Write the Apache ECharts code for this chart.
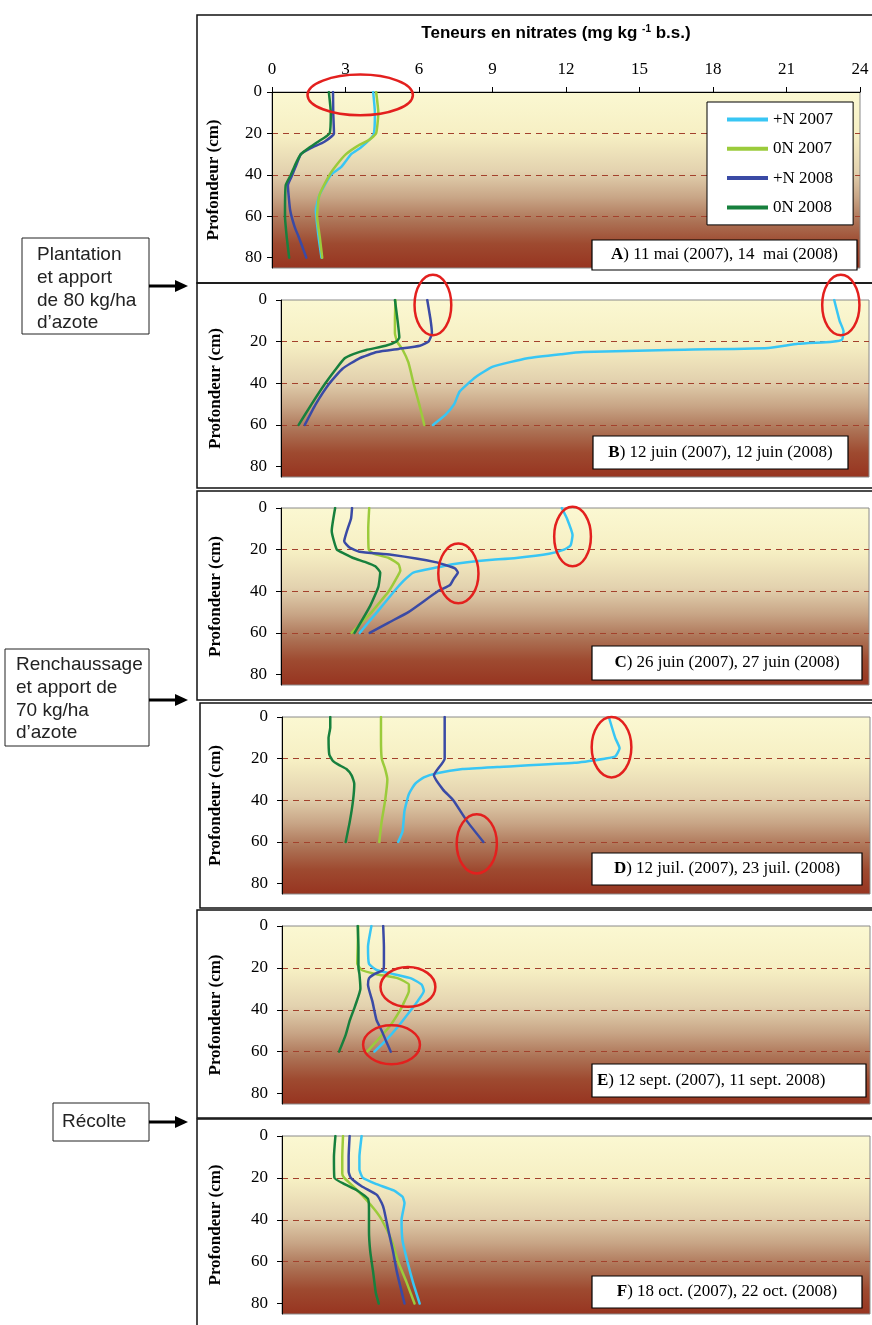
<!DOCTYPE html>
<html><head><meta charset="utf-8">
<script src="https://cdn.jsdelivr.net/npm/echarts@6/dist/echarts.min.js"></script>
<style>html,body{margin:0;padding:0;background:#fff}#c{width:872px;height:1325px}</style>
</head><body><div id="c"></div>
<script>
// ---------- DATA ----------
const xTicks = [0, 3, 6, 9, 12, 15, 18, 21, 24];
const depthTicks = [0, 20, 40, 60, 80];
const seriesNames = ['+N 2007', '0N 2007', '+N 2008', '0N 2008'];
// pairs: [depth (cm), nitrate (mg/kg)]
const A_pN2007 = [[0,4.13],[10,4.2],[20,4.16],[23,3.98],[27,3.6],[30,3.23],[36,2.84],[40,2.4],[45,2.15],[50,1.93],[57,1.79],[70,1.9],[80,2.02]];
const A_0N2007 = [[0,4.25],[10,4.34],[20,4.25],[23,3.98],[26,3.5],[30,3.02],[35,2.65],[40,2.35],[50,1.93],[60,1.84],[70,1.95],[80,2.05]];
const A_pN2008 = [[0,2.49],[10,2.5],[20,2.53],[24,2.14],[27,1.6],[30,1.18],[35,1.0],[40,0.83],[45,0.65],[57,0.74],[65,0.92],[70,1.09],[80,1.4]];
const A_0N2008 = [[0,2.32],[10,2.4],[20,2.35],[24,1.88],[27,1.5],[30,1.18],[35,0.95],[40,0.77],[45,0.56],[60,0.53],[70,0.6],[80,0.7]];

const B_pN2007 = [[0,22.58],[10,22.8],[15,22.96],[19,22.9],[20,22.5],[21,21.1],[23,19.9],[24,15.85],[25,12.34],[26,11.46],[28,10.06],[32,8.65],[37,7.95],[44,7.29],[50,7.07],[55,6.72],[60,6.2]];
const B_0N2007 = [[0,4.67],[10,4.65],[16,4.65],[20,4.74],[24,4.97],[30,5.2],[40,5.41],[50,5.64],[60,5.85]];
const B_pN2008 = [[0,5.97],[10,6.11],[16,6.16],[20,6.02],[22,5.67],[23.5,4.8],[25,3.92],[28,3.2],[33,2.51],[40,1.98],[50,1.42],[60,0.97]];
const B_0N2008 = [[0,4.65],[10,4.76],[18,4.83],[20,4.7],[22,4.27],[24,3.48],[26,2.95],[28,2.6],[33,2.25],[40,1.81],[50,1.25],[60,0.72]];

const C_pN2007 = [[0,11.46],[5,11.67],[13,11.9],[18,11.82],[20,11.55],[22,10.94],[24,9.6],[25,8.5],[26,7.6],[27,7.0],[28.5,6.4],[31,5.4],[35,5.0],[40,4.62],[50,3.92],[60,3.21]];
const C_0N2007 = [[0,3.6],[10,3.56],[20,3.58],[22,3.8],[24,4.4],[27,4.8],[30,4.87],[33,4.75],[40,4.4],[45,4.05],[50,3.7],[60,2.88]];
const C_pN2008 = [[0,2.9],[5,2.86],[10,2.72],[16,2.58],[19,2.8],[21,3.2],[22.5,4.5],[26,6.3],[29,7.1],[31,7.22],[34,7.05],[37,6.9],[40,6.4],[50,5.2],[55,4.4],[60,3.62]];
const C_0N2008 = [[0,2.21],[11,2.07],[20,2.28],[22,2.6],[24,2.95],[26,3.45],[28,3.85],[31,4.05],[38,3.97],[47,3.64],[60,3.0]];

const D_pN2007 = [[0,13.34],[10,13.6],[15,13.78],[19,13.6],[20,13.17],[22,11.94],[24,8.78],[25,7.37],[27,6.32],[29,5.79],[32,5.44],[37,5.18],[45,5.0],[55,4.92],[60,4.74]];
const D_0N2007 = [[0,4.04],[10,4.04],[20,4.07],[25,4.21],[30,4.3],[40,4.21],[50,4.07],[60,3.97]];
const D_pN2008 = [[0,6.64],[10,6.64],[20,6.64],[28,6.2],[35,6.58],[40,6.99],[50,7.55],[60,8.22]];
const D_0N2008 = [[0,1.97],[5,1.97],[10,1.9],[18,1.93],[21,2.07],[23,2.32],[25,2.63],[28,2.84],[32,2.95],[40,2.9],[50,2.77],[60,2.6]];

const E_pN2007 = [[0,3.65],[10,3.51],[18,3.55],[21,3.86],[23,4.56],[25,5.27],[28,5.7],[31,5.79],[36,5.53],[40,5.27],[48,4.74],[55,4.21],[60,3.77]];
const E_0N2007 = [[0,3.11],[10,3.09],[18,3.07],[21,3.25],[23,3.86],[25,4.74],[28,5.18],[31,5.18],[36,5.0],[40,4.83],[48,4.39],[55,3.86],[60,3.47]];
const E_pN2008 = [[0,4.13],[10,4.16],[18,4.16],[21,4.13],[23,3.77],[25,3.55],[28,3.51],[36,3.69],[45,3.86],[50,4.07],[55,4.25],[60,4.44]];
const E_0N2008 = [[0,3.09],[10,3.12],[20,3.12],[23,3.16],[30,3.2],[38,2.99],[45,2.77],[52,2.6],[60,2.33]];

const F_pN2007 = [[0,3.25],[10,3.16],[16,3.16],[20,3.3],[23,3.86],[26,4.56],[29,4.92],[32,5.0],[40,4.88],[50,4.92],[60,5.12],[70,5.35],[80,5.62]];
const F_0N2007 = [[0,2.49],[10,2.46],[18,2.46],[20,2.54],[23,2.81],[28,3.25],[35,3.77],[40,4.07],[50,4.48],[60,4.74],[70,5.09],[80,5.41]];
const F_pN2008 = [[0,2.76],[10,2.72],[17,2.72],[20,2.81],[24,3.25],[28,3.86],[32,4.07],[35,4.16],[45,4.34],[55,4.53],[65,4.69],[80,5.0]];
const F_0N2008 = [[0,2.18],[10,2.12],[20,2.14],[23,2.55],[26,3.07],[30,3.51],[35,3.55],[45,3.55],[55,3.6],[65,3.72],[75,3.83],[80,3.95]];

// annotation rings: [x center, depth center, x radius, depth radius]
const A_rings = [[3.6, 1.4, 2.15, 9.8]];
const B_rings = [[6.2, 2.4, 0.75, 14.5], [22.85, 2.4, 0.76, 14.5]];
const C_rings = [[11.9, 13.7, 0.75, 14.3], [7.24, 31.4, 0.82, 14.3]];
const D_rings = [[13.45, 14.5, 0.81, 14.5], [7.95, 60.9, 0.82, 14.2]];
const E_rings = [[5.14, 29.1, 1.12, 9.5], [4.47, 56.7, 1.16, 9.3]];
const F_rings = [];

const panelLetters = ['A', 'B', 'C', 'D', 'E', 'F'];
const panelDates = [
  ') 11 mai (2007), 14  mai (2008)',
  ') 12 juin (2007), 12 juin (2008)',
  ') 26 juin (2007), 27 juin (2008)',
  ') 12 juil. (2007), 23 juil. (2008)',
  ') 12 sept. (2007), 11 sept. 2008)',
  ') 18 oct. (2007), 22 oct. (2008)'
];
const panelSeries = [
  [A_pN2007, A_0N2007, A_pN2008, A_0N2008],
  [B_pN2007, B_0N2007, B_pN2008, B_0N2008],
  [C_pN2007, C_0N2007, C_pN2008, C_0N2008],
  [D_pN2007, D_0N2007, D_pN2008, D_0N2008],
  [E_pN2007, E_0N2007, E_pN2008, E_0N2008],
  [F_pN2007, F_0N2007, F_pN2008, F_0N2008]
];
const panelRings = [A_rings, B_rings, C_rings, D_rings, E_rings, F_rings];
const xTitle = 'Teneurs en nitrates (mg kg ';
const xTitleSup = '-1';
const xTitleEnd = ' b.s.)';
const yTitle = 'Profondeur (cm)';
const eventTexts = [
  ['Plantation', 'et apport', 'de 80 kg/ha', 'd\u2019azote'],
  ['Renchaussage', 'et apport de', '70 kg/ha', 'd\u2019azote'],
  ['R\u00e9colte']
];

// ---------- LAYOUT / STYLE ----------
const SERIF = '"Liberation Serif", "Times New Roman", serif';
const SANS = '"Liberation Sans", Arial, sans-serif';
const colors = ['#38C6F4', '#9BCB3B', '#3A4AA5', '#17803D'];
const PLOT_W = 588;
const gridLayout = [
  {left: 272, top: 92, height: 176},
  {left: 281, top: 300, height: 177},
  {left: 281, top: 508, height: 177},
  {left: 282, top: 717, height: 177},
  {left: 282, top: 926, height: 178},
  {left: 282, top: 1136, height: 178}
];
const nameGaps = [50, 57, 57, 58, 58, 58];
const labelMargins = [10, 14, 14, 14, 14, 14];
const frames = [[197,15,875,283],[197,283,875,488],[197,491,875,700],[200,703,875,908],[197,910,875,1118],[197,1119,875,1328]];
const dateBoxes = [[592,240,857,270],[593,436,848,469],[592,646,862,680],[592,853,862,885],[592,1064,866,1097],[592,1276,862,1308]];
const eventBoxes = [
  {box:[22,238,149,334], tx:37, ty:[255,278,301,323], arrowY:286},
  {box:[5,649,149,746], tx:16, ty:[665,688,711,733], arrowY:700},
  {box:[53,1103,149,1141], tx:62, ty:[1122], arrowY:1122}
];

const bg = {
  type: 'linear', x: 0, y: 0, x2: 0, y2: 1,
  colorStops: [
    {offset: 0, color: '#FBF8D2'},
    {offset: 0.25, color: '#F6EFC3'},
    {offset: 0.45, color: '#E3D2AF'},
    {offset: 0.6, color: '#C8A586'},
    {offset: 0.73, color: '#AD7457'},
    {offset: 0.86, color: '#9E4A30'},
    {offset: 1, color: '#973420'}
  ]
};

const grids = [], xAxes = [], yAxes = [], series = [];
gridLayout.forEach((g, i) => {
  grids.push({left: g.left, top: g.top, width: PLOT_W, height: g.height, show: true,
    backgroundColor: bg, borderColor: '#8a8a8a', borderWidth: 1, containLabel: false});
  if (i === 0) {
    xAxes.push({type: 'value', gridIndex: i, position: 'top', min: 0, max: 24, interval: 3,
      axisLine: {show: true, onZero: false, lineStyle: {color: '#000', width: 1}},
      axisTick: {show: true, length: 5, lineStyle: {color: '#000'}},
      axisLabel: {fontFamily: SERIF, fontSize: 17, color: '#000', margin: 14,
        customValues: xTicks},
      splitLine: {show: false}});
  } else {
    xAxes.push({type: 'value', gridIndex: i, min: 0, max: 24, interval: 3, show: false});
  }
  yAxes.push({type: 'value', gridIndex: i, inverse: true, min: 0, max: 85, interval: 20,
    axisLine: {show: true, onZero: false, lineStyle: {color: '#000', width: 1}},
    axisTick: {show: true, length: 5, customValues: depthTicks, lineStyle: {color: '#000'}},
    axisLabel: {fontFamily: SERIF, fontSize: 17, color: '#000', margin: labelMargins[i], customValues: depthTicks},
    splitLine: {show: true, showMinLine: false, showMaxLine: false,
      lineStyle: {type: [6, 5], color: '#A3412C', width: 1}},
    name: yTitle, nameLocation: 'middle', nameRotate: 90, nameGap: nameGaps[i],
    nameTextStyle: {fontFamily: SERIF, fontWeight: 'bold', fontSize: 17, color: '#000'}});
  panelSeries[i].forEach((arr, j) => {
    series.push({type: 'line', name: seriesNames[j], xAxisIndex: i, yAxisIndex: i,
      data: arr.map(p => [p[1], p[0]]), smooth: 0.15, symbol: 'none', showSymbol: false,
      lineStyle: {width: 2.5, color: colors[j], join: 'round', cap: 'round'}, itemStyle: {color: colors[j]},
      emphasis: {disabled: true}, z: 3 + j});
  });
});

const chart = echarts.init(document.getElementById('c'), null, {renderer: 'canvas'});
chart.setOption({
  animation: false,
  backgroundColor: '#fff',
  grid: grids, xAxis: xAxes, yAxis: yAxes, series: series,
  legend: {show: true, data: seriesNames, orient: 'vertical', left: 707, top: 102,
    padding: [9, 20, 9, 20], itemGap: 12.3, itemWidth: 41, itemHeight: 4, icon: 'rect',
    borderColor: '#000', borderWidth: 1, backgroundColor: '#fff', z: 20,
    textStyle: {fontFamily: SERIF, fontSize: 17, color: '#000', lineHeight: 14}}
});

// ---------- GRAPHIC ----------
const gr = [];
frames.forEach(f => gr.push({type: 'rect', shape: {x: f[0], y: f[1], width: f[2]-f[0], height: f[3]-f[1]},
  style: {fill: 'none', stroke: '#111', lineWidth: 1.5}, z: 50, silent: true}));
gr.push({type: 'text', x: 556, y: 33, z: 60, style: {
  text: xTitle + '{sup|' + xTitleSup + '}' + xTitleEnd,
  font: 'bold 17px ' + SANS, fill: '#000', align: 'center', verticalAlign: 'middle',
  rich: {sup: {fontSize: 10, fontWeight: 'bold', fontFamily: SANS, verticalAlign: 'top', lineHeight: 10, padding: [0,0,8,0]}}
}});
dateBoxes.forEach((b, i) => {
  gr.push({type: 'rect', shape: {x: b[0], y: b[1], width: b[2]-b[0], height: b[3]-b[1]},
    style: {fill: '#fff', stroke: '#000', lineWidth: 1.2}, z: 60});
  const leftAlign = (i === 4);
  gr.push({type: 'text', x: leftAlign ? b[0] + 5 : (b[0]+b[2])/2, y: (b[1]+b[3])/2, z: 61, style: {
    text: '{b|' + panelLetters[i] + '}' + panelDates[i],
    font: '17px ' + SERIF, fill: '#000', align: leftAlign ? 'left' : 'center', verticalAlign: 'middle',
    rich: {b: {fontWeight: 'bold', fontFamily: SERIF, fontSize: 17}}
  }});
});
eventBoxes.forEach((e, k) => {
  const b = e.box;
  gr.push({type: 'rect', shape: {x: b[0], y: b[1], width: b[2]-b[0], height: b[3]-b[1]},
    style: {fill: '#fff', stroke: '#222', lineWidth: 1}, z: 60});
  eventTexts[k].forEach((t, n) => gr.push({type: 'text', x: e.tx, y: e.ty[n], z: 61,
    style: {text: t, font: '19px ' + SANS, fill: '#222', align: 'left', verticalAlign: 'middle'}}));
  gr.push({type: 'line', shape: {x1: b[2], y1: e.arrowY, x2: 177, y2: e.arrowY},
    style: {stroke: '#000', lineWidth: 3}, z: 60});
  gr.push({type: 'polygon', shape: {points: [[175, e.arrowY-6], [188, e.arrowY], [175, e.arrowY+6]]},
    style: {fill: '#000'}, z: 60});
});
panelRings.forEach((rings, i) => {
  rings.forEach(r => {
    const c = chart.convertToPixel({gridIndex: i}, [r[0], r[1]]);
    const ex = chart.convertToPixel({gridIndex: i}, [r[0] + r[2], r[1] + r[3]]);
    gr.push({type: 'ellipse', shape: {cx: c[0], cy: c[1], rx: Math.abs(ex[0]-c[0]), ry: Math.abs(ex[1]-c[1])},
      style: {fill: 'none', stroke: '#E3201E', lineWidth: 2.5}, z: 70, silent: true});
  });
});
chart.setOption({graphic: gr});
</script>
</body></html>
